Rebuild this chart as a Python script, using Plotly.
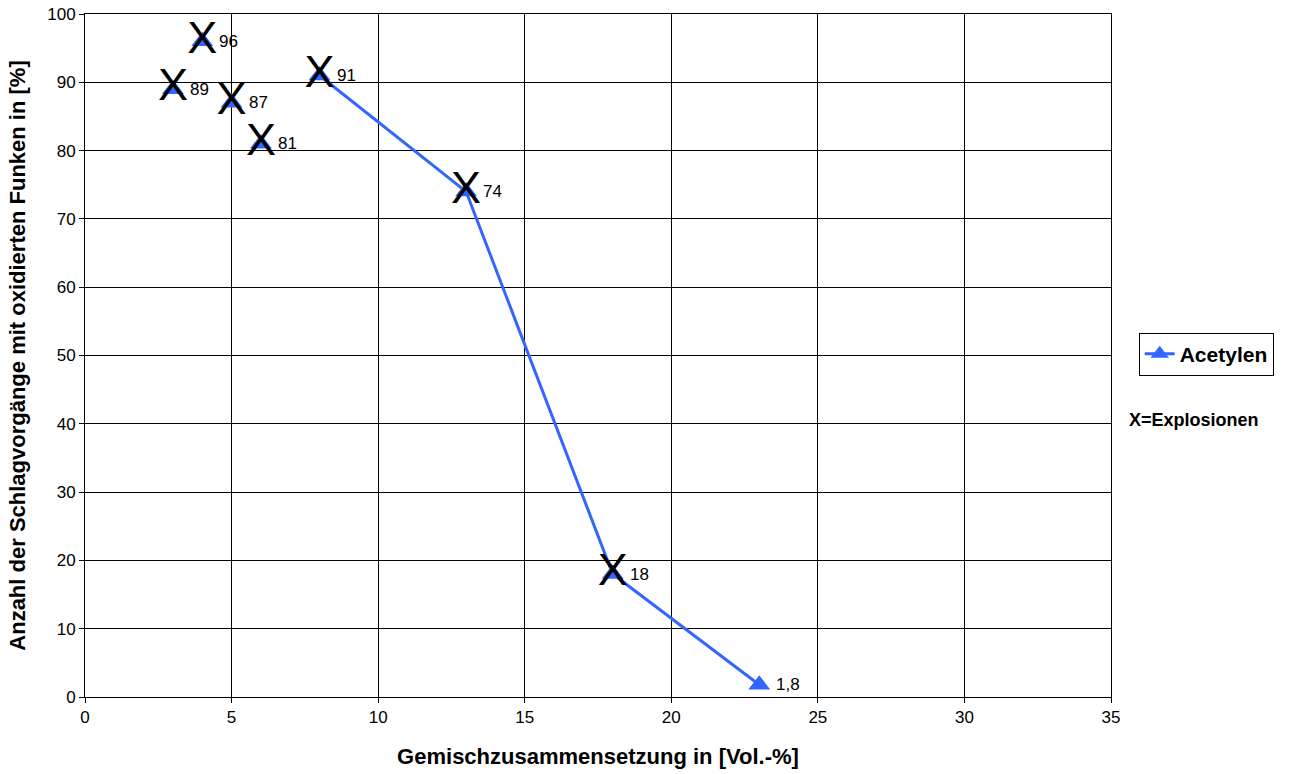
import plotly.graph_objects as go

# Acetylen: mixture composition vs. share of impacts with oxidised sparks
mix_vol_pct = [3, 4, 5, 6, 8, 13, 18, 23]
sparks_pct = [89, 96, 87, 81, 91, 74, 18, 1.8]
value_labels = ["89", "96", "87", "81", "91", "74", "18", "1,8"]
explosion = [True, True, True, True, True, True, True, False]
# the first four measurements stand alone, the rest form a connected curve
connected_from = 4

x_ticks = [0, 5, 10, 15, 20, 25, 30, 35]
y_ticks = [0, 10, 20, 30, 40, 50, 60, 70, 80, 90, 100]

blue = "#3366ff"
font = "Liberation Sans, Arial, sans-serif"

fig = go.Figure()

fig.add_trace(go.Scatter(
    x=mix_vol_pct[:connected_from], y=sparks_pct[:connected_from],
    mode="markers", showlegend=False,
    marker=dict(symbol="triangle-up", size=19, color=blue),
))
fig.add_trace(go.Scatter(
    x=mix_vol_pct[connected_from:], y=sparks_pct[connected_from:],
    mode="lines+markers", name="Acetylen",
    line=dict(color=blue, width=3),
    marker=dict(symbol="triangle-up", size=19, color=blue),
))

# explosion flags, drawn over the markers
ex_x = [x for x, e in zip(mix_vol_pct, explosion) if e]
ex_y = [y for y, e in zip(sparks_pct, explosion) if e]
fig.add_trace(go.Scatter(
    x=ex_x, y=ex_y, mode="text", text=["X"] * len(ex_x),
    textposition="middle center", showlegend=False,
    textfont=dict(family=font, size=45, color="black"),
    hoverinfo="skip",
))

# value labels right of each point
annotations = []
for x, y, t, e in zip(mix_vol_pct, sparks_pct, value_labels, explosion):
    annotations.append(dict(
        x=x, y=y, xref="x", yref="y", text=t, showarrow=False,
        xanchor="left", yanchor="middle", xshift=15, yshift=0,
        font=dict(family=font, size=17, color="black"),
    ))

annotations.append(dict(
    x=1.0156, y=0.4056, xref="paper", yref="paper",
    xanchor="left", yanchor="middle", showarrow=False,
    text="<b>X=Explosionen</b>", font=dict(family=font, size=18),
))

fig.update_layout(
    width=1295, height=774,
    margin=dict(l=85, r=184, t=14, b=77, autoexpand=False),
    paper_bgcolor="white", plot_bgcolor="white",
    font=dict(family=font, size=17, color="black"),
    legend=dict(
        x=1.027, y=0.502, xanchor="left", yanchor="middle",
        bordercolor="black", borderwidth=1,
        font=dict(family=font, size=21, color="black", weight="bold"),
        itemwidth=30, tracegroupgap=0,
    ),
    xaxis=dict(
        range=[0, 35], tickvals=x_ticks, showgrid=True, automargin=False,
        gridcolor="black", gridwidth=1, zeroline=False,
        showline=True, linecolor="black", mirror=True,
        ticks="outside", ticklen=5, tickcolor="black",
        title=dict(text="<b>Gemischzusammensetzung in [Vol.-%]</b>",
                   font=dict(size=22), standoff=22),
    ),
    yaxis=dict(
        range=[0, 100], tickvals=y_ticks, showgrid=True, automargin=False,
        gridcolor="black", gridwidth=1, zeroline=False,
        showline=True, linecolor="black", mirror=True,
        ticks="outside", ticklen=5, tickcolor="black",
        title=dict(text="<b>Anzahl der Schlagvorgänge mit oxidierten Funken in [%]</b>",
                   font=dict(size=22), standoff=15),
    ),
    annotations=annotations,
)

fig.write_html("out.html")
